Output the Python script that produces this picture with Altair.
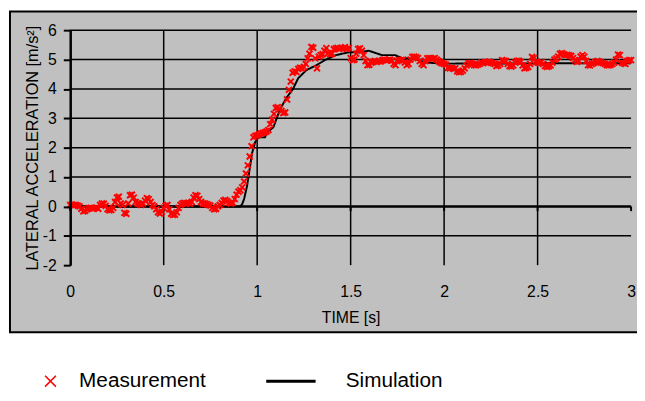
import altair as alt
import pandas as pd

# ---- data ----
meas_step = 0.01
meas_acc = [
    0.05, 0.06, 0.04, 0.05, 0.03, 0.00, -0.08, -0.17, -0.15, -0.10,
    -0.06, -0.05, -0.07, -0.06, -0.04, -0.08, 0.05, 0.10, 0.09, 0.02,
    -0.10, -0.13, -0.12, -0.05, 0.15, 0.30, 0.33, 0.10, 0.05, -0.22,
    -0.25, 0.10, 0.38, 0.40, 0.30, 0.15, 0.10, 0.08, 0.05, 0.10,
    0.20, 0.28, 0.25, 0.15, 0.05, 0.00, -0.10, -0.20, -0.24, -0.18,
    -0.05, 0.02, 0.05, -0.10, -0.25, -0.29, -0.28, -0.20, -0.05, 0.05,
    0.10, 0.12, 0.10, 0.12, 0.10, 0.15, 0.30, 0.38, 0.36, 0.25,
    0.15, 0.10, 0.10, 0.08, 0.05, 0.03, -0.05, -0.10, -0.08, 0.00,
    0.05, 0.12, 0.20, 0.22, 0.18, 0.12, 0.10, 0.12, 0.25, 0.40,
    0.50, 0.55, 0.65, 0.85, 1.12, 1.40, 1.70, 2.05, 2.35, 2.40,
    2.42, 2.45, 2.48, 2.50, 2.52, 2.55, 2.60, 2.80, 2.95, 3.15,
    3.35, 3.38, 3.32, 3.25, 3.18, 3.20, 3.64, 3.97, 4.25, 4.55,
    4.60, 4.58, 4.68, 4.72, 4.70, 4.75, 4.85, 5.04, 5.20, 5.43,
    5.40, 5.04, 4.70, 5.10, 5.15, 5.18, 5.30, 5.39, 5.22, 5.18,
    5.20, 5.35, 5.38, 5.40, 5.36, 5.40, 5.38, 5.42, 5.36, 5.40,
    5.05, 4.98, 5.00, 5.20, 5.36, 5.38, 5.30, 5.15, 4.95, 4.81,
    4.82, 4.90, 4.92, 4.95, 4.92, 4.95, 4.93, 4.98, 5.00, 4.97,
    4.98, 5.00, 4.96, 4.85, 4.81, 4.95, 4.98, 4.98, 5.00, 4.90,
    4.81, 4.85, 5.00, 5.09, 5.10, 5.08, 5.05, 4.95, 4.85, 4.81,
    4.95, 5.04, 5.05, 5.04, 5.03, 5.05, 5.00, 4.95, 4.90, 4.87,
    4.85, 4.82, 4.72, 4.70, 4.72, 4.68, 4.70, 4.60, 4.57, 4.58,
    4.62, 4.70, 4.80, 4.87, 4.88, 4.85, 4.81, 4.80, 4.83, 4.85,
    4.90, 4.88, 4.92, 4.90, 4.93, 4.90, 4.88, 4.85, 4.78, 4.80,
    4.85, 4.98, 4.96, 4.95, 4.85, 4.78, 4.76, 4.80, 4.90, 4.95,
    4.96, 4.92, 4.80, 4.70, 4.72, 4.75, 4.85, 5.09, 5.05, 4.92,
    4.90, 4.88, 4.92, 4.85, 4.78, 4.75, 4.77, 4.80, 4.90, 5.00,
    5.04, 5.10, 5.20, 5.22, 5.18, 5.15, 5.16, 5.14, 5.12, 5.05,
    4.98, 4.92, 4.95, 5.10, 5.15, 5.10, 4.95, 4.81, 4.80, 4.85,
    4.88, 4.92, 4.95, 4.93, 4.90, 4.88, 4.85, 4.81, 4.80, 4.82,
    4.85, 4.90, 5.00, 5.17, 5.15, 4.90, 4.87, 4.85, 4.95, 4.98,
    4.98,
]
meas_t = [round(i * meas_step, 2) for i in range(len(meas_acc))]

sim_t = [0, 0.91, 0.92, 0.93, 0.946, 0.963, 0.972, 0.99, 1.007, 1.042, 1.051,
         1.087, 1.122, 1.157, 1.192, 1.219, 1.263, 1.315, 1.368, 1.421, 1.492,
         1.544, 1.597, 1.667, 1.738, 1.773, 1.844, 1.9, 2.0, 2.5, 3.0]
sim_acc = [0, 0, 0.08, 0.25, 0.7, 1.4, 1.8, 2.2, 2.35, 2.35, 2.5,
           2.7, 3.3, 3.7, 4.0, 4.36, 4.64, 4.8, 5.0, 5.15, 5.25,
           5.25, 5.3, 5.15, 5.15, 5.05, 5.03, 4.9, 4.86, 4.87, 4.87]

x_ticks = [0, 0.5, 1, 1.5, 2, 2.5, 3]
y_ticks = [-2, -1, 0, 1, 2, 3, 4, 5, 6]
h_grid = [-1, 1, 2, 3, 4, 5, 6]
v_grid = [0.5, 1, 1.5, 2, 2.5]

meas_df = pd.DataFrame({"t": meas_t, "a": meas_acc, "series": "Measurement"})
sim_df = pd.DataFrame({"t": sim_t, "a": sim_acc, "series": "Simulation"})
hgrid_df = pd.DataFrame({"y": h_grid})
vgrid_df = pd.DataFrame({"x": v_grid})
zero_df = pd.DataFrame({"y": [0]})
xtick_df = pd.DataFrame({"x": x_ticks, "y0": [0] * len(x_ticks), "y1": [-0.16] * len(x_ticks)})
one_df = pd.DataFrame({"k": [0]})

XPATH = "M-1,-1L1,1M1,-1L-1,1"

xs = alt.Scale(domain=[0, 3], nice=False, zero=False)
ys = alt.Scale(domain=[-2, 6], nice=False)
xaxis = alt.Axis(values=x_ticks, labelExpr="'' + datum.value", domain=False, ticks=False, grid=False,
                 labelPadding=19, labelFontSize=16, labelColor="black", labelFlush=False,
                 title="TIME [s]", titleFontSize=16, titleFontWeight="normal",
                 titleColor="black", titlePadding=10, zindex=1)
yaxis = alt.Axis(values=y_ticks, labelExpr="'' + datum.value", grid=False, domain=True,
                 domainColor="black", domainWidth=2.5,
                 tickColor="black", tickWidth=2, tickSize=7, labelPadding=7,
                 labelFontSize=16, labelColor="black", labelFlush=False,
                 title="LATERAL ACCELERATION [m/s²]", titleFontSize=16.5,
                 titleFontWeight="normal", titleColor="black", titlePadding=2, zindex=1)

frame = alt.Chart(one_df).mark_rect(fill="#c0c0c0", stroke="black", strokeWidth=2).encode(
    x=alt.value(-61), x2=alt.value(577), y=alt.value(-19), y2=alt.value(306))

hgrid = alt.Chart(hgrid_df).mark_rule(color="black", strokeWidth=1.5).encode(
    y=alt.Y("y:Q", scale=ys, axis=yaxis))
vgrid = alt.Chart(vgrid_df).mark_rule(color="black", strokeWidth=1.5).encode(
    x=alt.X("x:Q", scale=xs, axis=xaxis))
zero = alt.Chart(zero_df).mark_rule(color="black", strokeWidth=2.5).encode(
    y=alt.Y("y:Q", scale=ys, axis=yaxis))
xticks = alt.Chart(xtick_df).mark_rule(color="black", strokeWidth=2).encode(
    x=alt.X("x:Q", scale=xs, axis=xaxis),
    y=alt.Y("y0:Q", scale=ys, axis=yaxis), y2="y1:Q")

sim = alt.Chart(sim_df).mark_line(color="black", strokeWidth=2).encode(
    x=alt.X("t:Q", scale=xs, axis=xaxis),
    y=alt.Y("a:Q", scale=ys, axis=yaxis),
    strokeDash=alt.StrokeDash("series:N",
        scale=alt.Scale(domain=["Simulation"], range=[[1, 0]]),
        legend=alt.Legend(orient="none", legendX=197, legendY=329, title=None,
                          symbolType="stroke", symbolSize=2500, symbolStrokeColor="black",
                          symbolStrokeWidth=3, labelFontSize=21, labelColor="black",
                          labelOffset=29, padding=0)))

meas = alt.Chart(meas_df).mark_point(color="#ff0000", filled=False, strokeWidth=2, size=36, opacity=1).encode(
    x=alt.X("t:Q", scale=xs, axis=xaxis),
    y=alt.Y("a:Q", scale=ys, axis=yaxis),
    shape=alt.Shape("series:N",
        scale=alt.Scale(domain=["Measurement"], range=[XPATH]),
        legend=alt.Legend(orient="none", legendX=-30.5, legendY=345, title=None,
                          symbolSize=121, symbolStrokeColor="#ff0000",
                          symbolFillColor="transparent", symbolStrokeWidth=1.5,
                          labelFontSize=21, labelColor="black", labelOffset=18.5,
                          padding=0)))

chart = alt.layer(frame, hgrid, vgrid, zero, xticks, sim, meas).properties(
    width=568, height=238,
    padding={"left": 63, "top": 20, "right": 6, "bottom": 126},
    autosize=alt.AutoSizeParams(type="none"),
    background="white",
).configure_view(stroke=None).configure(font="Liberation Sans")

chart.save("out.html", embed_options={"renderer": "svg", "actions": False})
